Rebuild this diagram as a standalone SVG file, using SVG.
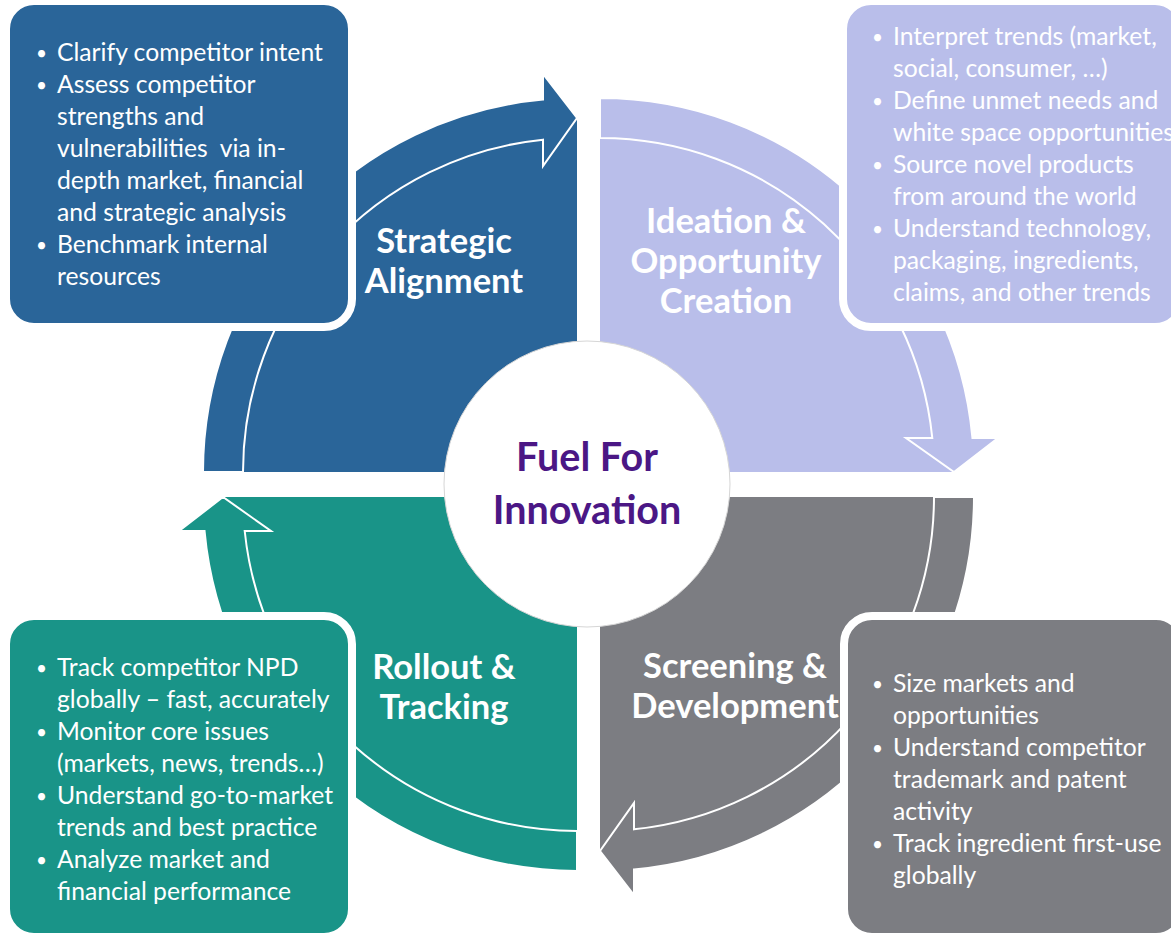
<svg xmlns="http://www.w3.org/2000/svg" width="1171" height="934" viewBox="0 0 1171 934">
<style>
.body{font-family:Lato,"Liberation Sans",sans-serif;font-size:24.7px;fill:#ffffff}
.bul{font-family:Lato,"Liberation Sans",sans-serif;font-size:19px;fill:#ffffff}
.head{font-family:Lato,"Liberation Sans",sans-serif;font-size:34.5px;font-weight:700;fill:#ffffff;text-anchor:middle}
.center{font-family:Lato,"Liberation Sans",sans-serif;font-size:39.5px;font-weight:700;fill:#4B1785;text-anchor:middle}
.box{stroke:#ffffff;stroke-width:8}
.arrow{stroke:#ffffff;stroke-width:2;stroke-linejoin:miter}
.blue{fill:#2A6599}
.lav{fill:#B9BEEA}
.gray{fill:#7C7D82}
.teal{fill:#199488}
</style>
<defs>
<path id="pie" d="M0,0 L-354,0 A354,354 0 0 1 0,-354 Z"/>
<path id="arr" d="M-374,0 A374,374 0 0 1 -34,-372.45 L-34,-398 L0,-354 L-34,-306 L-34,-332.3 A334,334 0 0 0 -334,0 Z"/>
</defs>
<g id="sectors">
<use href="#pie" class="blue" transform="translate(577,472)"/>
<use href="#pie" class="lav" transform="translate(600,472) rotate(90)"/>
<use href="#pie" class="gray" transform="translate(600,497) rotate(180)"/>
<use href="#pie" class="teal" transform="translate(577,497) rotate(270)"/>
</g>
<g id="connectors">
<use href="#arr" class="arrow blue" transform="translate(577,472)"/>
<use href="#arr" class="arrow lav" transform="translate(600,472) rotate(90)"/>
<use href="#arr" class="arrow gray" transform="translate(600,497) rotate(180)"/>
<use href="#arr" class="arrow teal" transform="translate(577,497) rotate(270)"/>
</g>
<g id="center">
<circle cx="587" cy="484" r="143" fill="#ffffff" stroke="#D6D6D6" stroke-width="1"/>
<text class="center" x="587" y="471">Fuel For</text>
<text class="center" x="587" y="524">Innovation</text>
</g>
<g id="strategic-alignment">
<rect class="box blue" x="6" y="1" width="346" height="326" rx="28"/>
<text class="bul" x="36" y="60">•</text><text class="body" x="57" y="61">Clarify competitor intent</text>
<text class="bul" x="36" y="92">•</text><text class="body" x="57" y="93">Assess competitor</text>
<text class="body" x="57" y="125">strengths and</text>
<text class="body" x="57" y="157" style="white-space:pre">vulnerabilities  via in-</text>
<text class="body" x="57" y="189">depth market, financial</text>
<text class="body" x="57" y="221">and strategic analysis</text>
<text class="bul" x="36" y="252">•</text><text class="body" x="57" y="253">Benchmark internal</text>
<text class="body" x="57" y="285">resources</text>
<text class="head" x="444" y="253">Strategic</text>
<text class="head" x="444" y="293">Alignment</text>
</g>
<g id="ideation">
<rect class="box lav" x="843" y="1" width="340" height="326" rx="28"/>
<text class="bul" x="872" y="44">•</text><text class="body" x="893" y="45">Interpret trends (market,</text>
<text class="body" x="893" y="77">social, consumer, …)</text>
<text class="bul" x="872" y="108">•</text><text class="body" x="893" y="109">Define unmet needs and</text>
<text class="body" x="893" y="141">white space opportunities</text>
<text class="bul" x="872" y="172">•</text><text class="body" x="893" y="173">Source novel products</text>
<text class="body" x="893" y="205">from around the world</text>
<text class="bul" x="872" y="236">•</text><text class="body" x="893" y="237">Understand technology,</text>
<text class="body" x="893" y="269">packaging, ingredients,</text>
<text class="body" x="893" y="301">claims, and other trends</text>
<text class="head" x="726" y="233">Ideation &amp;</text>
<text class="head" x="726" y="273">Opportunity</text>
<text class="head" x="726" y="313">Creation</text>
</g>
<g id="screening">
<rect class="box gray" x="844" y="616" width="340" height="321" rx="28"/>
<text class="bul" x="872" y="691">•</text><text class="body" x="893" y="692">Size markets and</text>
<text class="body" x="893" y="724">opportunities</text>
<text class="bul" x="872" y="755">•</text><text class="body" x="893" y="756">Understand competitor</text>
<text class="body" x="893" y="788">trademark and patent</text>
<text class="body" x="893" y="820">activity</text>
<text class="bul" x="872" y="851">•</text><text class="body" x="893" y="852">Track ingredient first-use</text>
<text class="body" x="893" y="884">globally</text>
<text class="head" x="735" y="678">Screening &amp;</text>
<text class="head" x="735" y="718">Development</text>
</g>
<g id="rollout">
<rect class="box teal" x="6" y="616" width="346" height="321" rx="28"/>
<text class="bul" x="36" y="675">•</text><text class="body" x="57" y="676">Track competitor NPD</text>
<text class="body" x="57" y="708">globally – fast, accurately</text>
<text class="bul" x="36" y="739">•</text><text class="body" x="57" y="740">Monitor core issues</text>
<text class="body" x="57" y="772">(markets, news, trends…)</text>
<text class="bul" x="36" y="803">•</text><text class="body" x="57" y="804">Understand go-to-market</text>
<text class="body" x="57" y="836">trends and best practice</text>
<text class="bul" x="36" y="867">•</text><text class="body" x="57" y="868">Analyze market and</text>
<text class="body" x="57" y="900">financial performance</text>
<text class="head" x="444" y="679">Rollout &amp;</text>
<text class="head" x="444" y="719">Tracking</text>
</g>
</svg>
